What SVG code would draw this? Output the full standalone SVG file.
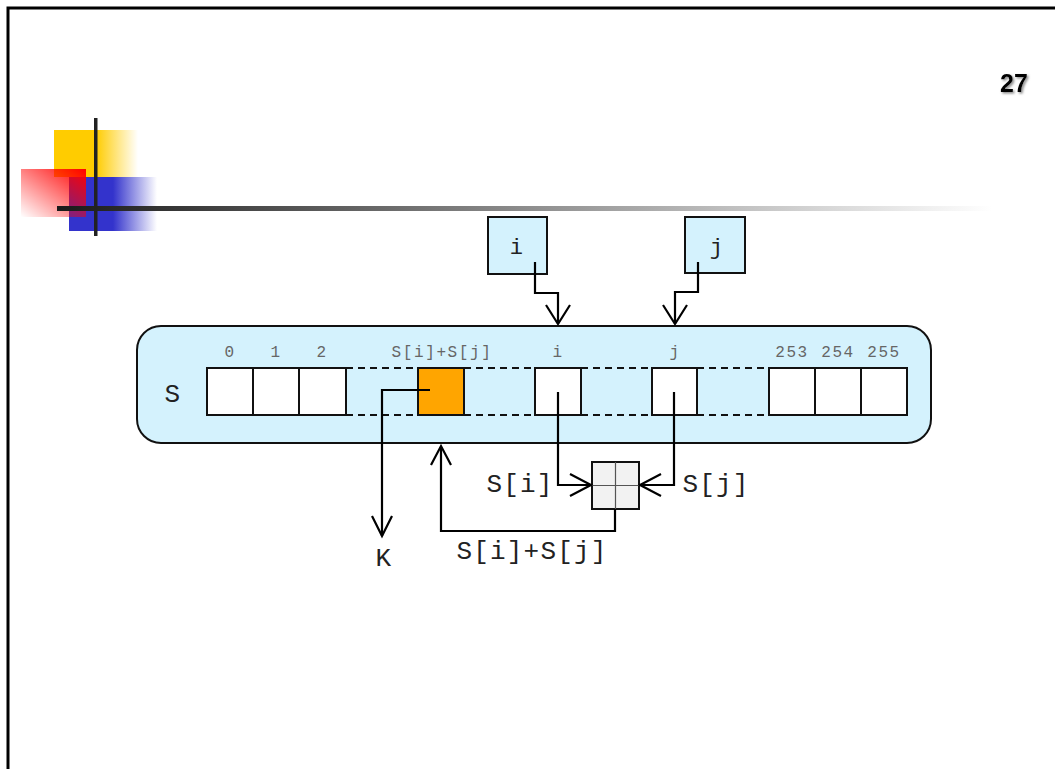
<svg xmlns="http://www.w3.org/2000/svg" width="1055" height="769" viewBox="0 0 1055 769">
<defs>
<linearGradient id="gy" x1="0" y1="0" x2="1" y2="0"><stop offset="0.5" stop-color="#FFCC00"/><stop offset="1" stop-color="#FFCC00" stop-opacity="0"/></linearGradient>
<linearGradient id="gb" x1="0" y1="0" x2="1" y2="0"><stop offset="0.5" stop-color="#3333CC"/><stop offset="1" stop-color="#3333CC" stop-opacity="0"/></linearGradient>
<linearGradient id="gr" x1="1" y1="0" x2="0" y2="1"><stop offset="0" stop-color="#FF0000"/><stop offset="1" stop-color="#FF0000" stop-opacity="0"/></linearGradient>
<linearGradient id="gl" x1="0" y1="0" x2="1" y2="0"><stop offset="0" stop-color="#1a1a1a"/><stop offset="1" stop-color="#ffffff"/></linearGradient>
<filter id="sh" x="-20%" y="-20%" width="140%" height="140%"><feDropShadow dx="1.5" dy="1.5" stdDeviation="0.8" flood-color="#888"/></filter>
</defs>
<style>
.ln{fill:none;stroke:#000;stroke-width:2.2}
.cell{fill:#fff;stroke:#111;stroke-width:2}
.dash{stroke:#111;stroke-width:2;stroke-dasharray:7,5}
.idx{font-family:"Liberation Mono",monospace;font-size:16px;fill:#666;text-anchor:middle;letter-spacing:1.6px}
.big{font-family:"Liberation Mono",monospace;font-size:26px;fill:#222;text-anchor:middle;letter-spacing:1.2px}
</style>
<rect width="1055" height="769" fill="#fff"/>
<!-- frame -->
<path d="M8 769 V8 H1055" fill="none" stroke="#000" stroke-width="3"/>
<!-- decoration -->
<g id="decoration">
<rect x="54" y="130" width="84" height="47" fill="url(#gy)"/>
<rect x="69" y="177" width="88" height="54" fill="url(#gb)"/>
<rect x="21" y="169" width="65" height="48" fill="url(#gr)"/>
<rect x="57" y="206" width="935" height="5" fill="url(#gl)"/>
<rect x="94" y="118" width="3.5" height="118" fill="#222"/>
</g>
<text x="1014" y="92" font-family="Liberation Sans, Arial, sans-serif" font-weight="bold" font-size="25" text-anchor="middle" fill="#000" filter="url(#sh)">27</text>
<!-- state array -->
<g id="S-array">
<rect x="137" y="326" width="794" height="117" rx="24" fill="#D4F2FD" stroke="#111" stroke-width="2"/>
<text x="173" y="402" class="big">S</text>
<rect x="207" y="368" width="46" height="47" class="cell"/>
<rect x="253" y="368" width="46" height="47" class="cell"/>
<rect x="299" y="368" width="47" height="47" class="cell"/>
<rect x="418" y="368" width="46" height="47" fill="#FFA500" stroke="#111" stroke-width="2"/>
<rect x="535" y="368" width="46" height="47" class="cell"/>
<rect x="652" y="368" width="45" height="47" class="cell"/>
<rect x="769" y="368" width="46" height="47" class="cell"/>
<rect x="815" y="368" width="46" height="47" class="cell"/>
<rect x="861" y="368" width="46" height="47" class="cell"/>
<path d="M346 368H418M346 415H418M464 368H535M464 415H535M581 368H652M581 415H652M697 368H769M697 415H769" class="dash"/>
<text x="230" y="357" class="idx">0</text>
<text x="276" y="357" class="idx">1</text>
<text x="322" y="357" class="idx">2</text>
<text x="442" y="357" class="idx">S[i]+S[j]</text>
<text x="558" y="357" class="idx">i</text>
<text x="675" y="357" class="idx">j</text>
<text x="792" y="357" class="idx">253</text>
<text x="838" y="357" class="idx">254</text>
<text x="884" y="357" class="idx">255</text>
</g>
<g id="node-i">
<rect x="488" y="217" width="59" height="57" fill="#D4F2FD" stroke="#111" stroke-width="2"/>
<text x="517" y="254" class="big" style="font-size:22px">i</text>
</g>
<g id="node-j">
<rect x="685" y="217" width="60" height="56" fill="#D4F2FD" stroke="#111" stroke-width="2"/>
<text x="717" y="254" class="big" style="font-size:22px">j</text>
</g>
<g id="adder">
<rect x="592" y="462" width="47" height="47" fill="#f2f2f2" stroke="#111" stroke-width="2"/>
<path d="M615.5 462V509M592 485.5H639" stroke="#555" stroke-width="1.2"/>
</g>
<g id="labels">
<text x="520" y="492" class="big">S[i]</text>
<text x="716" y="492" class="big">S[j]</text>
<text x="532" y="559" class="big">S[i]+S[j]</text>
<text x="384" y="566" class="big">K</text>
</g>
<g id="connectors">
<path d="M535 262V293H558V324" class="ln"/>
<path d="M546 305L558 324L570 305" class="ln"/>
<path d="M698 262V292H675V324" class="ln"/>
<path d="M663 305L675 324L687 305" class="ln"/>
<path d="M430 390H382V536" class="ln"/>
<path d="M372 516L382 536L392 516" class="ln"/>
<path d="M558 392V485H590" class="ln"/>
<path d="M570 474L591 485L570 496" class="ln"/>
<path d="M674 392V485H641" class="ln"/>
<path d="M661 474L640 485L661 496" class="ln"/>
<path d="M615 509V531H441V447" class="ln"/>
<path d="M431 465L441 446L451 465" class="ln"/>
</g>
</svg>
